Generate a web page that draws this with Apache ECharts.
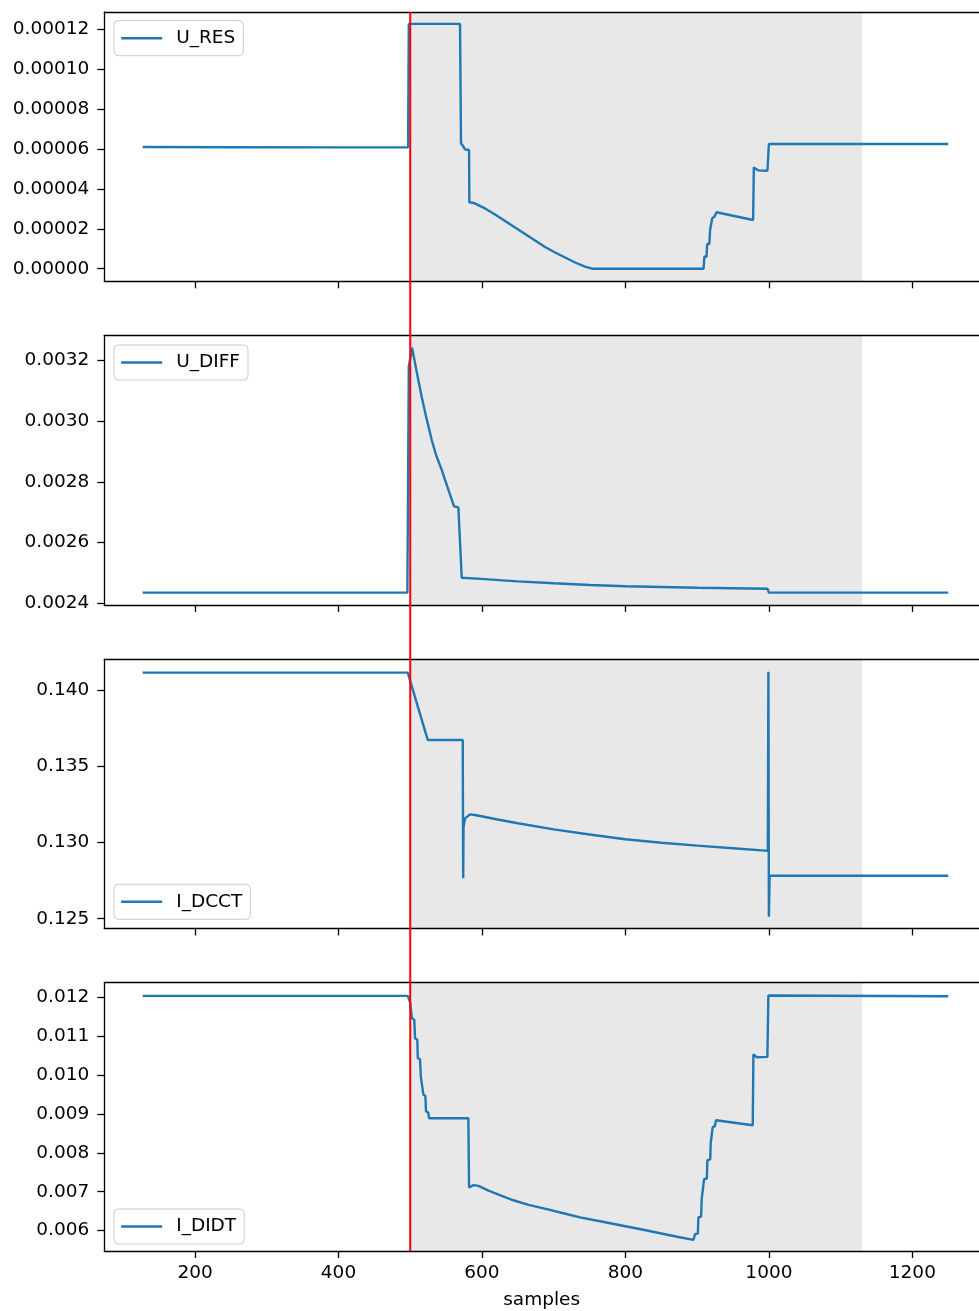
<!DOCTYPE html>
<html>
<head>
<meta charset="utf-8">
<script src="https://cdn.jsdelivr.net/npm/echarts@6/dist/echarts.min.js"></script>
<style>
  html, body { margin: 0; padding: 0; background: #fff; overflow: hidden; }
  #chart { width: 979px; height: 1311px; }
</style>
</head>
<body>
<div id="chart"></div>
<script>
// Signal traces (sample index, value)
const uRes = [
  [127, 6.10e-5], [250, 6.09e-5], [400, 6.08e-5], [497, 6.08e-5], [498, 1.227e-4], [569.4, 1.227e-4],
  [570.8, 6.28e-5], [573.2, 6.17e-5], [576.4, 5.98e-5], [582, 5.95e-5], [582.4, 3.33e-5], [589, 3.29e-5],
  [604.3, 3.02e-5], [618.2, 2.72e-5], [632.2, 2.39e-5], [646.1, 2.065e-5], [660.1, 1.74e-5],
  [674.0, 1.41e-5], [688.0, 1.09e-5], [701.9, 8.1e-6], [715.9, 5.6e-6], [729.8, 3.1e-6], [743.7, 1.0e-6],
  [753.5, 0], [909, 0],
  [910, 6.0e-6], [913, 6.0e-6], [914, 1.24e-5], [917, 1.24e-5], [918, 1.94e-5], [920, 1.94e-5],
  [921, 2.53e-5], [924, 2.6e-5], [927, 2.83e-5], [978, 2.44e-5], [979, 5.08e-5], [982, 5.0e-5],
  [985, 4.93e-5], [998, 4.91e-5], [1000, 6.25e-5], [1250, 6.25e-5]
];
const uDiff = [
  [127, 0.002435], [300, 0.002435], [496, 0.002435], [498, 0.00318], [502.5, 0.0032416], [508.1, 0.0031738],
  [516, 0.0030797], [522, 0.0030164], [530, 0.0029377], [536, 0.0028885], [543.9, 0.0028393],
  [548.5, 0.0028066], [561.1, 0.0027190], [567.1, 0.0027157],
  [571.8, 0.0024842], [592.7, 0.0024810], [650, 0.002472], [700, 0.002466], [750.7, 0.002460],
  [800, 0.002456], [900, 0.002451], [998, 0.002448], [1000, 0.002435], [1250, 0.002435]
];
const iDcct = [
  [127, 0.14116], [300, 0.14116], [496.5, 0.14116], [524.4, 0.13674], [573.2, 0.13674], [573.8, 0.12765],
  [574.3, 0.13104], [576.4, 0.13159], [583.4, 0.13185], [590.3, 0.13181], [620, 0.13153], [650, 0.13127],
  [700, 0.13087], [750, 0.13053], [800, 0.13022], [850, 0.12999], [900, 0.12980], [950, 0.12963],
  [995, 0.12947], [998.5, 0.12946], [999.3, 0.14122], [1000, 0.12513], [1001, 0.12782], [1250, 0.12782]
];
const iDidt = [
  [127, 0.01204], [496.5, 0.01204], [499.7, 0.01189], [502.0, 0.01185], [502.3, 0.01147], [505.7, 0.01142],
  [506.7, 0.01095], [509.9, 0.01091], [510.5, 0.01044], [513.7, 0.01040], [514.7, 0.00997], [517.4, 0.00993],
  [518.3, 0.00950], [521.1, 0.00946], [522.0, 0.00907], [525.3, 0.00903], [526.2, 0.00889], [581.0, 0.00889],
  [582.0, 0.00711], [588.0, 0.00717], [595.0, 0.00715], [610, 0.00702], [625, 0.00691], [643.7, 0.00678],
  [665, 0.00666], [690.3, 0.00655], [715, 0.00644], [736.7, 0.00634], [770, 0.00622], [800, 0.00611],
  [825, 0.00602], [848.3, 0.00593], [872, 0.00584], [894.7, 0.00576], [897.1, 0.00591], [901.0, 0.00592],
  [901.7, 0.00634], [905.5, 0.00636], [906.4, 0.00683], [909.0, 0.00685], [909.6, 0.00732], [913.5, 0.00734],
  [914.2, 0.00781], [918.2, 0.00783], [918.9, 0.00826], [921.0, 0.00828], [921.7, 0.00866], [924.5, 0.00868],
  [926.3, 0.00884], [977.5, 0.00871], [978.4, 0.01053], [983.1, 0.01046], [997.9, 0.01047], [999.3, 0.01205],
  [1250, 0.01203]
];

const seriesNames = ['U_RES', 'U_DIFF', 'I_DCCT', 'I_DIDT'];
const seriesData = [uRes, uDiff, iDcct, iDidt];

// Tick labels
const xTicks = [200, 400, 600, 800, 1000, 1200];
const yTicksRes = [0, 0.00002, 0.00004, 0.00006, 0.00008, 0.00010, 0.00012];
const yTicksDiff = [0.0024, 0.0026, 0.0028, 0.0030, 0.0032];
const yTicksDcct = [0.125, 0.130, 0.135, 0.140];
const yTicksDidt = [0.006, 0.007, 0.008, 0.009, 0.010, 0.011, 0.012];
const yTicks = [yTicksRes, yTicksDiff, yTicksDcct, yTicksDidt];
const yDecimals = [5, 4, 3, 3];

// Axis limits (the visible x range ends at the page edge)
const xRange = [73.5, 1292.9];
const yMin = [-0.00000632, 0.0023947, 0.124360, 0.005474];
const yMax = [0.00012867, 0.0032819, 0.142046, 0.012379];

// Event marker and highlighted window
const eventSample = 500;
const windowRange = [500, 1130];

const FONT = 'DejaVu Sans';
const FS = 18.5;
const LINE_COLOR = '#1f77b4';
const SPINE = { color: '#000', width: 1.3 };

const gridTop0 = 12, gridStep = 323.57, gridH = 269.3;
const legendTops = [20.7, 345, 884.3, 1209];

const chart = echarts.init(document.getElementById('chart'), null, { renderer: 'canvas' });

const grids = [], xAxes = [], yAxes = [], series = [], legends = [];
for (let i = 0; i < 4; i++) {
  grids.push({ left: 104.3, right: 0, top: gridTop0 + i * gridStep, height: gridH, show: false });
  xAxes.push({
    gridIndex: i, type: 'value', min: xRange[0], max: xRange[1], position: 'bottom', z: 10,
    axisLine: { show: true, onZero: false, lineStyle: SPINE },
    axisTick: { show: true, length: 7, customValues: xTicks, lineStyle: SPINE },
    axisLabel: { show: i === 3, customValues: xTicks, margin: 13, color: '#000', fontFamily: FONT, fontSize: FS,
      formatter: v => String(Math.round(v)) },
    splitLine: { show: false },
    name: i === 3 ? 'samples' : '', nameLocation: 'middle', nameGap: 40,
    nameTextStyle: { color: '#000', fontFamily: FONT, fontSize: FS }
  });
  const dec = yDecimals[i];
  yAxes.push({
    gridIndex: i, type: 'value', min: yMin[i], max: yMax[i], z: 10,
    axisLine: { show: true, onZero: false, lineStyle: SPINE },
    axisTick: { show: true, length: 7, customValues: yTicks[i], lineStyle: SPINE },
    axisLabel: { show: true, customValues: yTicks[i], margin: 15, color: '#000', fontFamily: FONT, fontSize: FS,
      formatter: v => Number(v).toFixed(dec) },
    splitLine: { show: false }
  });
  series.push({
    name: seriesNames[i], type: 'line', xAxisIndex: i, yAxisIndex: i,
    data: seriesData[i], symbol: 'none', showSymbol: false,
    lineStyle: { color: LINE_COLOR, width: 2.4 }, itemStyle: { color: LINE_COLOR },
    z: 3,
    markArea: {
      silent: true,
      itemStyle: { color: '#e8e8e8' },
      data: [[{ xAxis: windowRange[0] }, { xAxis: windowRange[1] }]]
    }
  });
  legends.push({
    data: [seriesNames[i]], left: 114, top: legendTops[i], orient: 'vertical',
    padding: [8, 8, 8, 6], itemWidth: 41, itemHeight: 14,
    borderColor: '#cccccc', borderWidth: 1, borderRadius: 4, backgroundColor: 'rgba(255,255,255,0.8)',
    itemStyle: { color: 'rgba(0,0,0,0)', borderColor: 'rgba(0,0,0,0)', borderWidth: 0 },
    lineStyle: { color: LINE_COLOR, width: 2.4 },
    textStyle: { color: '#000', fontFamily: FONT, fontSize: FS, padding: [0, 0, 0, 9] },
    selectedMode: false
  });
}
// Top spines of each panel
for (let i = 0; i < 4; i++) {
  xAxes.push({
    gridIndex: i, type: 'value', min: xRange[0], max: xRange[1], position: 'top', z: 10,
    axisLine: { show: true, onZero: false, lineStyle: SPINE },
    axisTick: { show: false }, axisLabel: { show: false }, splitLine: { show: false }
  });
}

chart.setOption({
  animation: false,
  backgroundColor: '#ffffff',
  grid: grids, xAxis: xAxes, yAxis: yAxes, series: series, legend: legends
});

// Vertical event marker spanning all panels
const ex = chart.convertToPixel({ xAxisIndex: 0 }, eventSample);
const eyTop = chart.convertToPixel({ yAxisIndex: 0 }, yMax[0]);
const eyBot = chart.convertToPixel({ yAxisIndex: 3 }, yMin[3]);
chart.setOption({
  graphic: [{
    type: 'line', z: 100, silent: true,
    shape: { x1: ex, y1: eyTop, x2: ex, y2: eyBot },
    style: { stroke: '#ff0000', lineWidth: 2 }
  }]
});
</script>
</body>
</html>
